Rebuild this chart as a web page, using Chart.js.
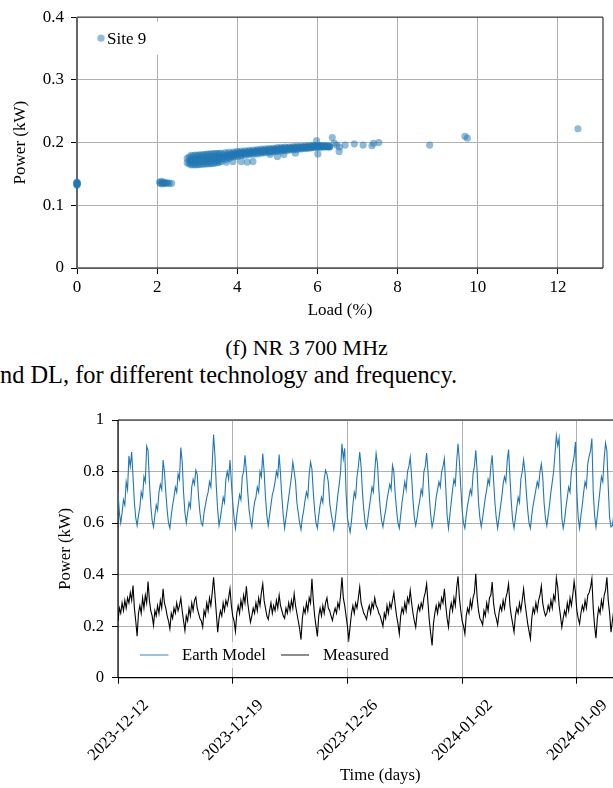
<!DOCTYPE html>
<html><head><meta charset="utf-8">
<script src="https://cdn.jsdelivr.net/npm/chart.js@4/dist/chart.umd.min.js"></script>
<style>
html,body{margin:0;padding:0;background:#fff;}
body{width:613px;height:788px;overflow:hidden;position:relative;font-family:'Liberation Serif','Times New Roman',serif;}
#c1{position:absolute;left:0;top:0;}
#c2{position:absolute;left:0;top:400px;}
.cap{position:absolute;white-space:nowrap;color:#000;line-height:1;}
</style></head><body>
<canvas id="c1" width="613" height="325"></canvas>
<div class="cap" style="left:0;width:613px;text-align:center;top:337px;font-size:22px;">(f) NR 3&#8201;700 MHz</div>
<div class="cap" style="left:0;top:363px;font-size:24.4px;">nd DL, for different technology and frequency.</div>
<canvas id="c2" width="660" height="388"></canvas>
<script>
// ---------- Top chart: Site 9 scatter (Load % vs Power kW) ----------
const idleLoad = [0,0,0,0,0,0,0,0];
const idlePowerKw = [0.132,0.133,0.134,0.135,0.136,0.137,0.1345,0.1355];
const lowLoad = [2.06,2.08,2.1,2.12,2.14,2.16,2.18,2.2,2.22,2.26,2.3,2.36];
const lowPowerKw = [0.137,0.135,0.138,0.134,0.136,0.137,0.135,0.136,0.135,0.136,0.135,0.135];
const bandLoad = [2.8,2.9,3.0,3.1,3.2,3.3,3.4,3.5,3.6,3.7,3.8,3.9,4.0,4.1,4.2,4.3,4.4,4.5,4.6,4.7,4.8,4.9,5.0,5.1,5.2,5.3,5.4,5.5,5.6,5.7,5.8,5.9,6.0,6.1,6.2,6.3];
const bandUpperKw = [0.177,0.179,0.1795,0.180,0.181,0.1815,0.182,0.1825,0.183,0.184,0.1845,0.185,0.186,0.1865,0.187,0.1875,0.188,0.189,0.1895,0.190,0.1905,0.191,0.192,0.1925,0.193,0.193,0.1935,0.194,0.194,0.1945,0.195,0.1955,0.1955,0.195,0.195,0.194];
const bandMidKw = [0.171,0.172,0.1725,0.173,0.1735,0.174,0.1745,0.175,0.1765,0.1785,0.1795,0.181,0.182,0.1828,0.1835,0.184,0.185,0.1855,0.186,0.187,0.1875,0.188,0.189,0.1895,0.190,0.1905,0.191,0.1915,0.192,0.1925,0.193,0.1935,0.194,0.194,0.194,0.1935];
const bandLowerKw = [0.166,0.165,0.165,0.1655,0.166,0.1665,0.167,0.168,0.170,0.173,0.175,0.177,0.178,0.179,0.180,0.181,0.1815,0.182,0.183,0.184,0.1845,0.185,0.186,0.1865,0.187,0.188,0.1885,0.189,0.190,0.1905,0.191,0.192,0.1925,0.1925,0.193,0.193];
const bandHalfLoad = [2.85,2.95,3.05,3.15,3.25,3.35,3.45,3.55,3.65,3.75,3.85,3.95,4.05,4.15,4.25,4.35,4.45,4.55,4.65,4.75,4.85,4.95,5.05,5.15,5.25,5.35,5.45,5.55,5.65,5.75,5.85,5.95,6.05,6.15,6.25];
const bandUpperMidKw = [0.175,0.1758,0.1763,0.177,0.1775,0.178,0.1785,0.1795,0.181,0.182,0.1825,0.1835,0.1845,0.185,0.1855,0.186,0.187,0.1875,0.188,0.1888,0.1895,0.190,0.191,0.1913,0.1918,0.192,0.1925,0.193,0.1933,0.194,0.1945,0.195,0.195,0.1945,0.194];
const bandHalfMidKw = [0.1715,0.172,0.1727,0.1733,0.1738,0.1743,0.1748,0.1757,0.1775,0.179,0.180,0.1812,0.1823,0.1832,0.1838,0.1845,0.1852,0.1858,0.1865,0.1872,0.1878,0.1885,0.1893,0.1898,0.1903,0.1908,0.1913,0.1918,0.1923,0.1928,0.1933,0.194,0.194,0.194,0.1937];
const bandLowerMidKw = [0.168,0.1685,0.169,0.1695,0.170,0.1705,0.171,0.172,0.1745,0.176,0.1775,0.179,0.180,0.181,0.182,0.1825,0.183,0.184,0.1845,0.1855,0.186,0.1865,0.1875,0.188,0.1885,0.189,0.190,0.1905,0.191,0.1915,0.192,0.193,0.193,0.1935,0.1935];
const fillLoad = [2.75,2.85,2.95,3.05,3.15,3.25,3.35,3.45,3.55];
const fillHighKw = [0.175,0.1795,0.180,0.1805,0.181,0.1815,0.182,0.1825,0.183];
const fillLowKw = [0.168,0.1645,0.1645,0.165,0.1655,0.166,0.1665,0.1675,0.169];
const sparseLoad = [3.73,3.89,4.1,4.25,4.39,4.82,5.0,5.16,5.45,5.98,6.01,6.37,6.42,6.48,6.54,6.55,6.69,6.92,7.14,7.36,7.40,7.53,8.8,9.68,9.74,12.5];
const sparsePowerKw = [0.169,0.170,0.170,0.169,0.170,0.181,0.178,0.181,0.183,0.203,0.182,0.208,0.199,0.196,0.186,0.193,0.196,0.198,0.196,0.195,0.199,0.200,0.196,0.210,0.207,0.222];
const loadTicks = [0,2,4,6,8,10,12];
const powerTicksTop = ['0','0.1','0.2','0.3','0.4'];

// ---------- Bottom chart: Earth Model vs Measured, 2-hour samples from 2023-12-12 00:00 ----------
const dateTickLabels = ['2023-12-12','2023-12-19','2023-12-26','2024-01-02','2024-01-09'];
const powerTicksBottom = ['0','0.2','0.4','0.6','0.8','1'];
const sampleHours = 2;
const earthModelKw = [
0.72,0.64,0.60,0.64,0.69,0.67,0.76,0.73,0.86,0.82,0.876,0.78,
0.68,0.62,0.59,0.63,0.66,0.72,0.70,0.78,0.76,0.898,0.882,0.76,
0.67,0.61,0.585,0.63,0.67,0.65,0.72,0.75,0.73,0.845,0.80,0.72,
0.65,0.60,0.58,0.63,0.67,0.70,0.74,0.72,0.79,0.77,0.893,0.84,
0.72,0.64,0.60,0.64,0.68,0.66,0.74,0.77,0.75,0.805,0.79,0.70,
0.64,0.60,0.59,0.64,0.67,0.70,0.72,0.76,0.74,0.83,0.944,0.86,
0.74,0.65,0.59,0.62,0.66,0.70,0.68,0.77,0.80,0.77,0.845,0.76,
0.68,0.62,0.58,0.63,0.67,0.71,0.69,0.78,0.80,0.863,0.80,0.72,
0.65,0.61,0.585,0.64,0.68,0.70,0.74,0.72,0.80,0.78,0.87,0.80,
0.70,0.63,0.59,0.63,0.67,0.71,0.73,0.76,0.80,0.78,0.866,0.79,
0.70,0.63,0.58,0.62,0.66,0.70,0.74,0.78,0.837,0.80,0.76,0.68,
0.64,0.60,0.575,0.62,0.65,0.69,0.72,0.70,0.79,0.837,0.81,0.72,
0.65,0.60,0.58,0.63,0.67,0.70,0.68,0.77,0.805,0.79,0.76,0.68,
0.64,0.61,0.575,0.61,0.66,0.71,0.75,0.80,0.908,0.85,0.89,0.72,
0.62,0.59,0.565,0.61,0.67,0.72,0.70,0.78,0.82,0.876,0.82,0.72,
0.65,0.60,0.58,0.62,0.66,0.70,0.74,0.72,0.80,0.87,0.83,0.73,
0.66,0.61,0.585,0.62,0.65,0.69,0.72,0.75,0.73,0.824,0.80,0.71,
0.65,0.60,0.58,0.63,0.68,0.72,0.76,0.73,0.80,0.82,0.856,0.78,
0.69,0.62,0.59,0.62,0.66,0.69,0.73,0.71,0.80,0.82,0.872,0.80,
0.70,0.63,0.585,0.61,0.65,0.70,0.73,0.76,0.74,0.80,0.82,0.85,
0.74,0.63,0.58,0.63,0.68,0.73,0.77,0.75,0.84,0.908,0.84,0.74,
0.65,0.60,0.58,0.63,0.67,0.70,0.73,0.71,0.79,0.82,0.882,0.80,
0.68,0.62,0.585,0.62,0.66,0.70,0.73,0.77,0.75,0.82,0.863,0.77,
0.68,0.62,0.58,0.62,0.66,0.70,0.75,0.78,0.76,0.84,0.885,0.78,
0.68,0.61,0.58,0.62,0.66,0.70,0.68,0.77,0.80,0.846,0.80,0.72,
0.65,0.60,0.58,0.63,0.67,0.70,0.73,0.76,0.74,0.80,0.83,0.78,
0.68,0.62,0.59,0.63,0.67,0.72,0.76,0.80,0.87,0.94,0.90,0.93,
0.74,0.62,0.58,0.61,0.66,0.70,0.74,0.72,0.80,0.83,0.86,0.915,
0.72,0.62,0.58,0.63,0.67,0.72,0.76,0.74,0.83,0.86,0.88,0.928,
0.72,0.63,0.585,0.63,0.68,0.73,0.78,0.76,0.85,0.911,0.88,0.74,
0.62,0.585,0.59,0.63,0.68,0.72,0.75
];
const measuredKw = [
0.22,0.27,0.25,0.29,0.26,0.30,0.27,0.31,0.29,0.33,0.30,0.358,
0.27,0.22,0.161,0.25,0.28,0.25,0.31,0.27,0.32,0.29,0.373,0.30,
0.26,0.24,0.203,0.26,0.24,0.28,0.25,0.30,0.27,0.345,0.29,0.27,
0.24,0.22,0.19,0.25,0.23,0.27,0.25,0.29,0.26,0.28,0.309,0.26,
0.22,0.183,0.24,0.22,0.27,0.24,0.29,0.26,0.30,0.313,0.27,0.25,
0.23,0.22,0.196,0.26,0.24,0.29,0.26,0.31,0.28,0.33,0.39,0.32,
0.25,0.177,0.23,0.26,0.24,0.29,0.26,0.30,0.28,0.31,0.345,0.28,
0.24,0.22,0.18,0.25,0.28,0.25,0.30,0.27,0.32,0.29,0.355,0.29,
0.25,0.215,0.24,0.27,0.25,0.29,0.26,0.31,0.28,0.33,0.364,0.30,
0.27,0.24,0.226,0.26,0.29,0.25,0.28,0.26,0.30,0.27,0.32,0.28,
0.26,0.24,0.23,0.27,0.25,0.29,0.26,0.30,0.27,0.326,0.28,0.25,
0.22,0.19,0.148,0.23,0.27,0.25,0.29,0.26,0.31,0.29,0.384,0.30,
0.24,0.20,0.16,0.24,0.27,0.24,0.28,0.25,0.29,0.31,0.27,0.26,
0.24,0.222,0.25,0.27,0.25,0.29,0.27,0.32,0.39,0.31,0.28,0.24,
0.20,0.148,0.20,0.25,0.28,0.25,0.29,0.27,0.31,0.352,0.29,0.27,
0.25,0.24,0.226,0.26,0.28,0.25,0.29,0.27,0.31,0.28,0.27,0.25,
0.24,0.22,0.20,0.25,0.23,0.28,0.25,0.29,0.27,0.30,0.33,0.28,
0.24,0.21,0.17,0.24,0.27,0.25,0.29,0.26,0.31,0.29,0.339,0.29,
0.25,0.22,0.196,0.25,0.28,0.26,0.29,0.27,0.31,0.33,0.364,0.29,
0.22,0.17,0.125,0.21,0.25,0.28,0.25,0.29,0.27,0.31,0.29,0.345,
0.28,0.23,0.196,0.26,0.29,0.26,0.31,0.28,0.35,0.393,0.31,0.26,
0.22,0.20,0.17,0.24,0.27,0.25,0.30,0.27,0.31,0.33,0.403,0.31,
0.26,0.23,0.22,0.205,0.26,0.24,0.29,0.26,0.31,0.32,0.371,0.29,
0.25,0.23,0.205,0.25,0.28,0.26,0.30,0.27,0.31,0.33,0.364,0.28,
0.24,0.21,0.177,0.24,0.27,0.25,0.29,0.26,0.30,0.345,0.29,0.25,
0.21,0.18,0.15,0.23,0.27,0.25,0.29,0.26,0.30,0.32,0.356,0.29,
0.26,0.24,0.25,0.28,0.26,0.30,0.27,0.32,0.30,0.387,0.35,0.28,
0.24,0.196,0.23,0.26,0.24,0.29,0.26,0.31,0.28,0.32,0.373,0.33,
0.26,0.23,0.209,0.25,0.28,0.26,0.30,0.27,0.32,0.33,0.35,0.384,
0.27,0.20,0.153,0.23,0.27,0.25,0.30,0.27,0.32,0.34,0.39,0.30,
0.25,0.177,0.22,0.26,0.24,0.28,0.27
];

// ---------- build point lists from the arrays ----------
const sitePoints = [];
const addPts = (xs, ys) => xs.forEach((x, i) => sitePoints.push({x: x, y: ys[i]}));
addPts(idleLoad, idlePowerKw);
addPts(lowLoad, lowPowerKw);
addPts(bandLoad, bandUpperKw);
addPts(bandLoad, bandMidKw);
addPts(bandLoad, bandLowerKw);
addPts(bandHalfLoad, bandUpperMidKw);
addPts(bandHalfLoad, bandHalfMidKw);
addPts(bandHalfLoad, bandLowerMidKw);
addPts(fillLoad, fillHighKw);
addPts(fillLoad, fillLowKw);
addPts(sparseLoad, sparsePowerKw);

const toSeries = arr => arr.map((v, i) => ({x: i * sampleHours / 24, y: v}));

// ---------- plugins ----------
const frameBox = {
  id: 'frameBox',
  beforeDatasetsDraw(chart, args, o) {
    const {ctx, chartArea: a} = chart;
    ctx.save();
    const seg = (x1, y1, x2, y2, c, w) => { ctx.beginPath(); ctx.strokeStyle = c; ctx.lineWidth = w; ctx.moveTo(x1, y1); ctx.lineTo(x2, y2); ctx.stroke(); };
    seg(a.left, a.top, a.right, a.top, o.top[0], o.top[1]);
    seg(a.right, a.top, a.right, a.bottom, o.right[0], o.right[1]);
    seg(a.left, a.bottom, a.right, a.bottom, o.bottom[0], o.bottom[1]);
    seg(a.left, a.top, a.left, a.bottom, o.left[0], o.left[1]);
    ctx.restore();
  }
};
const boxLegend = {
  id: 'boxLegend',
  afterDatasetsDraw(chart, args, o) {
    if (!o.items) return;
    const {ctx, chartArea: a} = chart;
    const bx = a.left + o.dx;
    const by = o.fromBottom ? a.bottom - o.dy - o.h : a.top + o.dy;
    ctx.save();
    ctx.fillStyle = o.bg;
    ctx.fillRect(bx, by, o.w, o.h);
    const cy = by + o.h / 2;
    ctx.font = o.font;
    ctx.textBaseline = 'middle';
    ctx.textAlign = 'left';
    o.items.forEach(it => {
      if (it.kind === 'dot') {
        ctx.beginPath(); ctx.fillStyle = it.color; ctx.arc(bx + it.mx, cy, it.r, 0, Math.PI * 2); ctx.fill();
      } else {
        ctx.beginPath(); ctx.strokeStyle = it.color; ctx.lineWidth = it.lw; ctx.moveTo(bx + it.mx, cy); ctx.lineTo(bx + it.mx2, cy); ctx.stroke();
      }
      ctx.fillStyle = '#000';
      ctx.fillText(chart.data.datasets[it.ds].label, bx + it.tx, cy + 1);
    });
    ctx.restore();
  }
};

Chart.defaults.font.family = "'Liberation Serif', 'Times New Roman', serif";
Chart.defaults.color = '#000';
Chart.defaults.animation = false;
Chart.defaults.events = [];
Chart.defaults.plugins.legend.display = false;
Chart.defaults.plugins.tooltip.enabled = false;

const gridStyle = {color: '#b0b0b0', lineWidth: 1, tickLength: 6, tickColor: '#000', tickWidth: 1};

new Chart(document.getElementById('c1'), {
  type: 'scatter',
  data: {datasets: [{label: 'Site 9', data: sitePoints, backgroundColor: 'rgba(31,119,180,0.5)', borderWidth: 0, pointRadius: 3.6, clip: false}]},
  options: {
    responsive: false,
    layout: {padding: {left: 0, right: 10, top: 10, bottom: 0}},
    scales: {
      x: {type: 'linear', min: 0, max: 13.125,
          afterFit(s) { s.height = 57; },
          afterBuildTicks(s) { s.ticks = loadTicks.map(v => ({value: v})); },
          ticks: {padding: 3, font: {size: 17}, color: '#000'},
          grid: gridStyle, border: {display: false},
          title: {display: true, text: 'Load (%)', font: {size: 17}, color: '#000', padding: {top: 0, bottom: 4}}},
      y: {type: 'linear', min: 0, max: 0.4,
          afterFit(s) { s.width = 77; },
          ticks: {stepSize: 0.1, includeBounds: false, padding: 7, font: {size: 17}, color: '#000',
                  callback: v => powerTicksTop[Math.round(v / 0.1)]},
          grid: gridStyle, border: {display: false},
          title: {display: true, text: 'Power (kW)', font: {size: 17}, color: '#000', padding: {top: 10, bottom: 0}}}
    },
    plugins: {
      frameBox: {top: ['#444', 1.3], right: ['#333', 1.2], bottom: ['#000', 1.2], left: ['#666', 2]},
      boxLegend: {dx: 8, dy: 4.5, w: 76, h: 33, bg: '#fff', font: "17px 'Liberation Serif'",
        items: [{ds: 0, kind: 'dot', color: 'rgba(31,119,180,0.5)', r: 3.6, mx: 16, tx: 22}]}
    }
  },
  plugins: [frameBox, boxLegend]
});

new Chart(document.getElementById('c2'), {
  type: 'line',
  data: {datasets: [
    {label: 'Earth Model', data: toSeries(earthModelKw), borderColor: '#1f77b4', borderWidth: 1.1, pointRadius: 0, tension: 0},
    {label: 'Measured', data: toSeries(measuredKw), borderColor: '#000', borderWidth: 1.1, pointRadius: 0, tension: 0}
  ]},
  options: {
    responsive: false,
    layout: {padding: {left: 0, right: 17.6, top: 20, bottom: 0}},
    scales: {
      x: {type: 'linear', min: 0, max: 32,
          afterFit(s) { s.height = 110.3; },
          ticks: {stepSize: 7, includeBounds: false, autoSkip: false, minRotation: 45, maxRotation: 45, labelOffset: 28, padding: 12,
                  font: {size: 16.7}, color: '#000',
                  callback: v => dateTickLabels[Math.round(v / 7)]},
          grid: gridStyle, border: {display: false},
          title: {display: true, text: 'Time (days)', font: {size: 16.7}, color: '#000', padding: {top: 0, bottom: 2}}},
      y: {type: 'linear', min: 0, max: 1,
          afterFit(s) { s.width = 118; },
          ticks: {stepSize: 0.2, includeBounds: false, padding: 8, font: {size: 16.7}, color: '#000',
                  callback: v => powerTicksBottom[Math.round(v / 0.2)]},
          grid: gridStyle, border: {display: false},
          title: {display: true, text: 'Power (kW)', font: {size: 16.7}, color: '#000', padding: {top: 56, bottom: 0}}}
    },
    plugins: {
      frameBox: {top: ['#555', 1.5], right: ['#333', 1.2], bottom: ['#000', 1.2], left: ['#000', 1.2]},
      boxLegend: {fromBottom: true, dx: 12, dy: 9.7, w: 265, h: 26, bg: 'rgba(255,255,255,0.8)', font: "16.7px 'Liberation Serif'",
        items: [
          {ds: 0, kind: 'line', color: 'rgba(31,119,180,0.6)', lw: 1.5, mx: 10, mx2: 38.5, tx: 52},
          {ds: 1, kind: 'line', color: 'rgba(0,0,0,0.6)', lw: 1.5, mx: 151, mx2: 179, tx: 193}
        ]}
    }
  },
  plugins: [frameBox, boxLegend]
});
</script>
</body></html>
